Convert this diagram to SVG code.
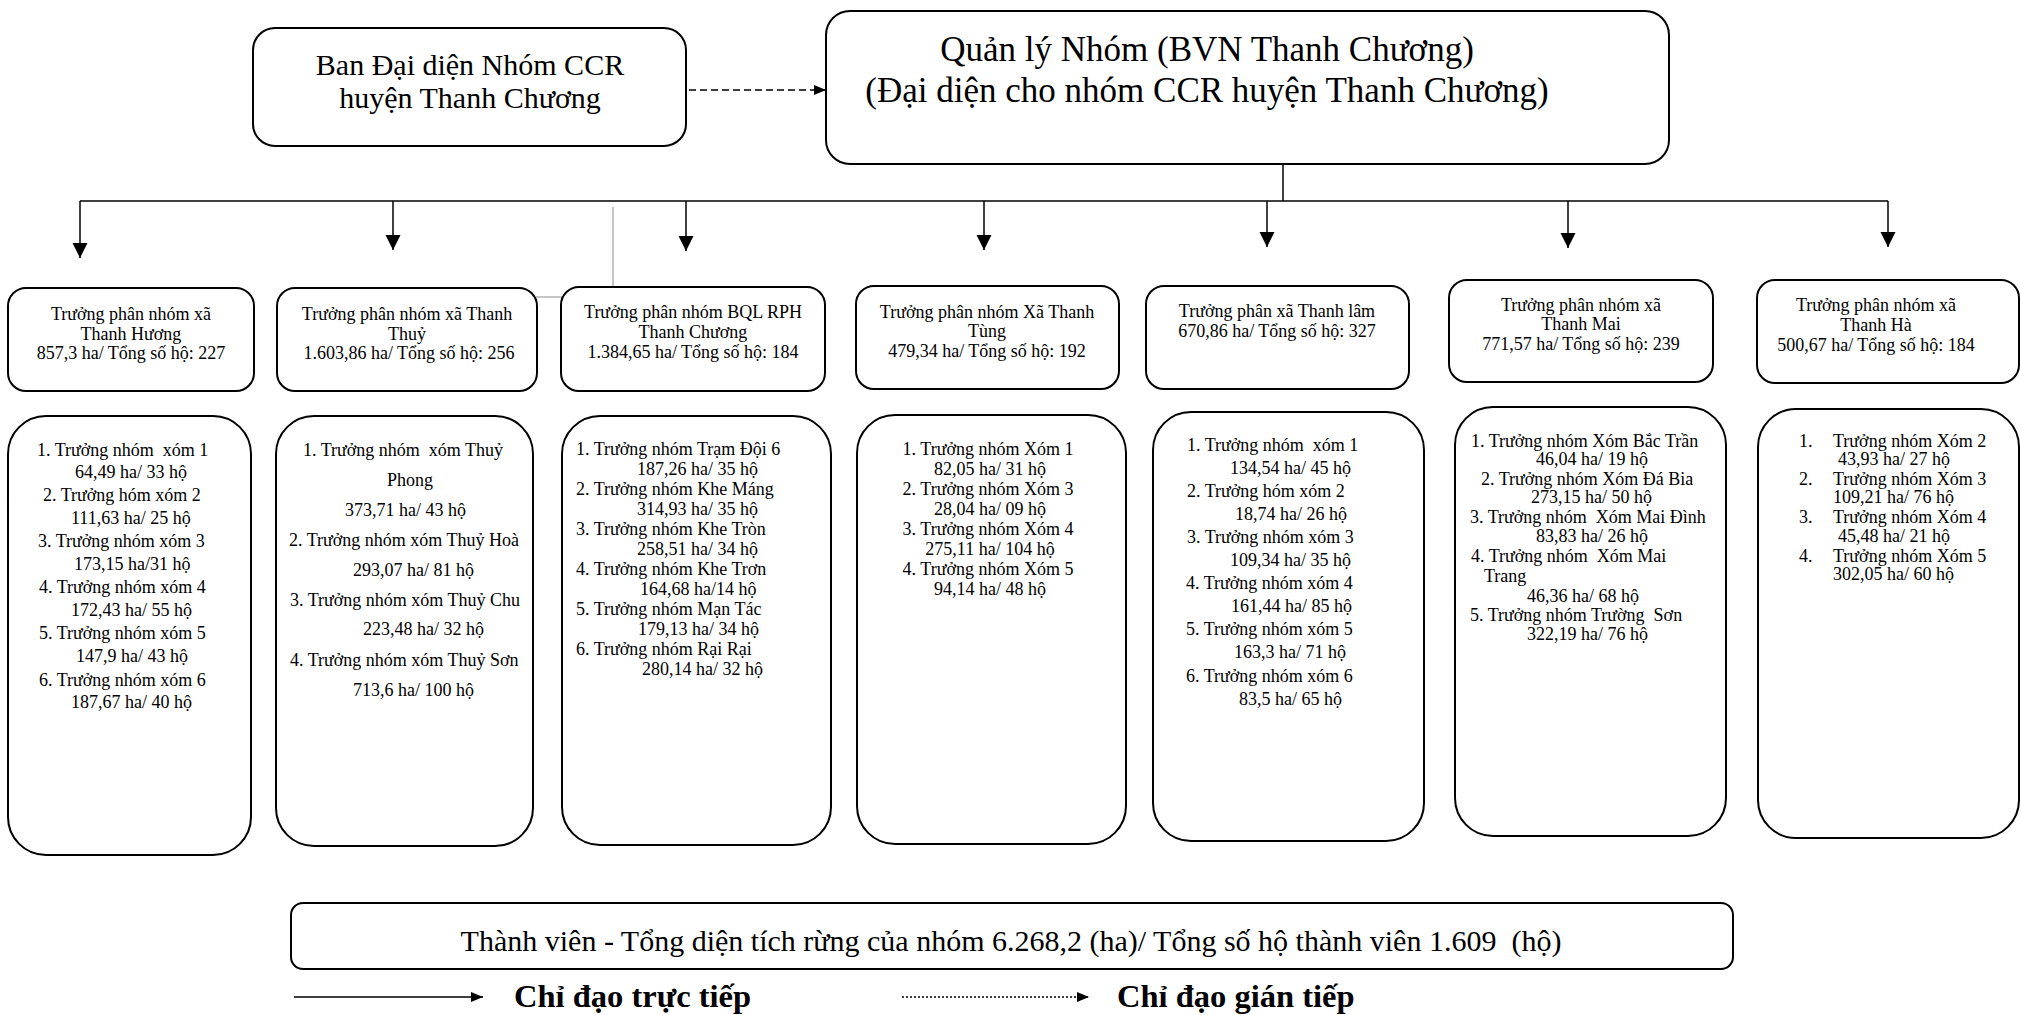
<svg xmlns="http://www.w3.org/2000/svg" width="2021" height="1015" viewBox="0 0 2021 1015">
<style>
.box{fill:#fff;stroke:#000;stroke-width:2}
.ln{fill:none;stroke:#000;stroke-width:1.5}
.gr{fill:none;stroke:#8c8c8c;stroke-width:1}
.t{font-family:"Liberation Serif","Times New Roman",serif;fill:#000;white-space:pre}
.big{font-size:30px}
.hd{font-size:35px}
.s{font-size:18px}
.c{text-anchor:middle}
.lg{font-size:32.5px;font-weight:bold}
</style>
<defs>
<marker id="ah" markerUnits="userSpaceOnUse" markerWidth="16" markerHeight="16" refX="15" refY="7.5" orient="auto"><path d="M0,0 L15,7.5 L0,15 z" fill="#000"/></marker>
<marker id="ahs" markerUnits="userSpaceOnUse" markerWidth="13" markerHeight="11" refX="12" refY="5" orient="auto"><path d="M0,0 L12,5 L0,10 z" fill="#000"/></marker>
</defs>
<rect width="2021" height="1015" fill="#fff"/>
<g id="connectors">
<line class="ln" x1="689" y1="90" x2="826" y2="90" stroke-dasharray="7,4" marker-end="url(#ahs)"/>
<line class="ln" x1="1283" y1="164" x2="1283" y2="201" stroke-width="1"/>
<line class="ln" x1="80" y1="201" x2="1888" y2="201"/>
<line class="ln" x1="80" y1="201" x2="80" y2="258" marker-end="url(#ah)"/>
<line class="ln" x1="393" y1="201" x2="393" y2="250" marker-end="url(#ah)"/>
<line class="ln" x1="686" y1="201" x2="686" y2="251" marker-end="url(#ah)"/>
<line class="ln" x1="984" y1="201" x2="984" y2="250" marker-end="url(#ah)"/>
<line class="ln" x1="1267" y1="201" x2="1267" y2="247" marker-end="url(#ah)"/>
<line class="ln" x1="1568" y1="201" x2="1568" y2="248" marker-end="url(#ah)"/>
<line class="ln" x1="1888" y1="201" x2="1888" y2="247" marker-end="url(#ah)"/>
<polyline class="gr" points="613,207 613,297 536,297"/>
</g>
<g id="ban-dai-dien">
<rect class="box" x="253" y="28" width="433" height="118" rx="22"/>
<text class="t big c" x="470" y="75">Ban Đại diện Nhóm CCR</text>
<text class="t big c" x="470" y="108">huyện Thanh Chương</text>
</g>
<g id="quan-ly-nhom">
<rect class="box" x="826" y="11" width="843" height="153" rx="24"/>
<text class="t hd c" x="1207" y="61">Quản lý Nhóm (BVN Thanh Chương)</text>
<text class="t hd c" x="1207" y="102">(Đại diện cho nhóm CCR huyện Thanh Chương)</text>
</g>
<g id="pn-thanh-huong">
<rect class="box" x="8" y="288" width="246" height="103" rx="18"/>
<text class="t s c" x="131" y="320">Trưởng phân nhóm xã</text>
<text class="t s c" x="131" y="339.5">Thanh Hương</text>
<text class="t s c" x="131" y="359">857,3 ha/ Tổng số hộ: 227</text>
</g>
<g id="pn-thanh-thuy">
<rect class="box" x="277" y="288" width="260" height="103" rx="18"/>
<text class="t s c" x="407" y="320">Trưởng phân nhóm xã Thanh</text>
<text class="t s c" x="407" y="339.5">Thuỷ</text>
<text class="t s c" x="409" y="359">1.603,86 ha/ Tổng số hộ: 256</text>
</g>
<g id="pn-bql-rph">
<rect class="box" x="561" y="287" width="264" height="104" rx="18"/>
<text class="t s c" x="693" y="318">Trưởng phân nhóm BQL RPH</text>
<text class="t s c" x="693" y="338">Thanh Chương</text>
<text class="t s c" x="693" y="358">1.384,65 ha/ Tổng số hộ: 184</text>
</g>
<g id="pn-thanh-tung">
<rect class="box" x="856" y="286" width="263" height="103" rx="18"/>
<text class="t s c" x="987" y="318">Trưởng phân nhóm Xã Thanh</text>
<text class="t s c" x="987" y="337">Tùng</text>
<text class="t s c" x="987" y="357">479,34 ha/ Tổng số hộ: 192</text>
</g>
<g id="pn-thanh-lam">
<rect class="box" x="1146" y="286" width="263" height="103" rx="18"/>
<text class="t s c" x="1277" y="317">Trưởng phân xã Thanh lâm</text>
<text class="t s c" x="1277" y="337">670,86 ha/ Tổng số hộ: 327</text>
</g>
<g id="pn-thanh-mai">
<rect class="box" x="1449" y="280" width="264" height="102" rx="18"/>
<text class="t s c" x="1581" y="311">Trưởng phân nhóm xã</text>
<text class="t s c" x="1581" y="330">Thanh Mai</text>
<text class="t s c" x="1581" y="350">771,57 ha/ Tổng số hộ: 239</text>
</g>
<g id="pn-thanh-ha">
<rect class="box" x="1757" y="280" width="262" height="103" rx="18"/>
<text class="t s c" x="1876" y="311">Trưởng phân nhóm xã</text>
<text class="t s c" x="1876" y="331">Thanh Hà</text>
<text class="t s c" x="1876" y="351">500,67 ha/ Tổng số hộ: 184</text>
</g>
<g id="ds-thanh-huong">
<rect class="box" x="8" y="416" width="243" height="439" rx="38"/>
<text class="t s" x="37" y="456">1. Trưởng nhóm  xóm 1</text>
<text class="t s" x="75" y="478">64,49 ha/ 33 hộ</text>
<text class="t s" x="43" y="501">2. Trưởng hóm xóm 2</text>
<text class="t s" x="71" y="524">111,63 ha/ 25 hộ</text>
<text class="t s" x="38" y="547">3. Trưởng nhóm xóm 3</text>
<text class="t s" x="74" y="570">173,15 ha/31 hộ</text>
<text class="t s" x="39" y="593">4. Trưởng nhóm xóm 4</text>
<text class="t s" x="71" y="616">172,43 ha/ 55 hộ</text>
<text class="t s" x="39" y="639">5. Trưởng nhóm xóm 5</text>
<text class="t s" x="76" y="662">147,9 ha/ 43 hộ</text>
<text class="t s" x="39" y="686">6. Trưởng nhóm xóm 6</text>
<text class="t s" x="71" y="708">187,67 ha/ 40 hộ</text>
</g>
<g id="ds-thanh-thuy">
<rect class="box" x="276" y="416" width="257" height="430" rx="38"/>
<text class="t s" x="303" y="456">1. Trưởng nhóm  xóm Thuỷ</text>
<text class="t s c" x="410" y="486">Phong</text>
<text class="t s" x="345" y="516">373,71 ha/ 43 hộ</text>
<text class="t s" x="289" y="546">2. Trưởng nhóm xóm Thuỷ Hoà</text>
<text class="t s" x="353" y="576">293,07 ha/ 81 hộ</text>
<text class="t s" x="290" y="606">3. Trưởng nhóm xóm Thuỷ Chu</text>
<text class="t s" x="363" y="635">223,48 ha/ 32 hộ</text>
<text class="t s" x="290" y="666">4. Trưởng nhóm xóm Thuỷ Sơn</text>
<text class="t s" x="353" y="696">713,6 ha/ 100 hộ</text>
</g>
<g id="ds-bql-rph">
<rect class="box" x="562" y="416" width="269" height="429" rx="38"/>
<text class="t s" x="576" y="455">1. Trưởng nhóm Trạm Đội 6</text>
<text class="t s" x="637" y="475">187,26 ha/ 35 hộ</text>
<text class="t s" x="576" y="495">2. Trưởng nhóm Khe Máng</text>
<text class="t s" x="637" y="515">314,93 ha/ 35 hộ</text>
<text class="t s" x="576" y="535">3. Trưởng nhóm Khe Tròn</text>
<text class="t s" x="637" y="555">258,51 ha/ 34 hộ</text>
<text class="t s" x="576" y="575">4. Trưởng nhóm Khe Trơn</text>
<text class="t s" x="640" y="595">164,68 ha/14 hộ</text>
<text class="t s" x="576" y="615">5. Trưởng nhóm Mạn Tác</text>
<text class="t s" x="638" y="635">179,13 ha/ 34 hộ</text>
<text class="t s" x="576" y="655">6. Trưởng nhóm Rại Rại</text>
<text class="t s" x="642" y="675">280,14 ha/ 32 hộ</text>
</g>
<g id="ds-thanh-tung">
<rect class="box" x="857" y="415" width="269" height="429" rx="38"/>
<text class="t s c" x="988" y="455">1. Trưởng nhóm Xóm 1</text>
<text class="t s c" x="990" y="475">82,05 ha/ 31 hộ</text>
<text class="t s c" x="988" y="495">2. Trưởng nhóm Xóm 3</text>
<text class="t s c" x="990" y="515">28,04 ha/ 09 hộ</text>
<text class="t s c" x="988" y="535">3. Trưởng nhóm Xóm 4</text>
<text class="t s c" x="990" y="555">275,11 ha/ 104 hộ</text>
<text class="t s c" x="988" y="575">4. Trưởng nhóm Xóm 5</text>
<text class="t s c" x="990" y="595">94,14 ha/ 48 hộ</text>
</g>
<g id="ds-thanh-lam">
<rect class="box" x="1153" y="412" width="271" height="429" rx="38"/>
<text class="t s" x="1187" y="451">1. Trưởng nhóm  xóm 1</text>
<text class="t s" x="1230" y="474">134,54 ha/ 45 hộ</text>
<text class="t s" x="1187" y="497">2. Trưởng hóm xóm 2</text>
<text class="t s" x="1235" y="520">18,74 ha/ 26 hộ</text>
<text class="t s" x="1187" y="543">3. Trưởng nhóm xóm 3</text>
<text class="t s" x="1230" y="566">109,34 ha/ 35 hộ</text>
<text class="t s" x="1186" y="589">4. Trưởng nhóm xóm 4</text>
<text class="t s" x="1231" y="612">161,44 ha/ 85 hộ</text>
<text class="t s" x="1186" y="635">5. Trưởng nhóm xóm 5</text>
<text class="t s" x="1234" y="658">163,3 ha/ 71 hộ</text>
<text class="t s" x="1186" y="682">6. Trưởng nhóm xóm 6</text>
<text class="t s" x="1239" y="705">83,5 ha/ 65 hộ</text>
</g>
<g id="ds-thanh-mai">
<rect class="box" x="1455" y="407" width="271" height="429" rx="38"/>
<text class="t s" x="1471" y="447">1. Trưởng nhóm Xóm Bắc Trần</text>
<text class="t s" x="1536" y="465">46,04 ha/ 19 hộ</text>
<text class="t s" x="1481" y="485">2. Trưởng nhóm Xóm Đá Bia</text>
<text class="t s" x="1531" y="503">273,15 ha/ 50 hộ</text>
<text class="t s" x="1470" y="523">3. Trưởng nhóm  Xóm Mai Đình</text>
<text class="t s" x="1536" y="542">83,83 ha/ 26 hộ</text>
<text class="t s" x="1471" y="562">4. Trưởng nhóm  Xóm Mai</text>
<text class="t s" x="1484" y="582">Trang</text>
<text class="t s" x="1527" y="602">46,36 ha/ 68 hộ</text>
<text class="t s" x="1470" y="621">5. Trưởng nhóm Trường  Sơn</text>
<text class="t s" x="1527" y="640">322,19 ha/ 76 hộ</text>
</g>
<g id="ds-thanh-ha">
<rect class="box" x="1758" y="409" width="261" height="429" rx="38"/>
<text class="t s" y="447"><tspan x="1799">1.</tspan><tspan x="1833">Trưởng nhóm Xóm 2</tspan></text>
<text class="t s" x="1838" y="465">43,93 ha/ 27 hộ</text>
<text class="t s" y="485"><tspan x="1799">2.</tspan><tspan x="1833">Trưởng nhóm Xóm 3</tspan></text>
<text class="t s" x="1833" y="503">109,21 ha/ 76 hộ</text>
<text class="t s" y="523"><tspan x="1799">3.</tspan><tspan x="1833">Trưởng nhóm Xóm 4</tspan></text>
<text class="t s" x="1838" y="542">45,48 ha/ 21 hộ</text>
<text class="t s" y="562"><tspan x="1799">4.</tspan><tspan x="1833">Trưởng nhóm Xóm 5</tspan></text>
<text class="t s" x="1833" y="580">302,05 ha/ 60 hộ</text>
</g>
<g id="thanh-vien">
<rect class="box" x="291" y="903" width="1442" height="66" rx="12"/>
<text class="t big c" x="1011" y="951">Thành viên - Tổng diện tích rừng của nhóm 6.268,2 (ha)/ Tổng số hộ thành viên 1.609  (hộ)</text>
</g>
<g id="legend">
<line class="ln" x1="294" y1="997" x2="483" y2="997" marker-end="url(#ahs)"/>
<text class="t lg" x="514" y="1007">Chỉ đạo trực tiếp</text>
<line class="ln" x1="902" y1="997" x2="1089" y2="997" stroke-width="1" stroke-dasharray="2,2" marker-end="url(#ahs)"/>
<text class="t lg" x="1117" y="1007">Chỉ đạo gián tiếp</text>
</g>
</svg>
